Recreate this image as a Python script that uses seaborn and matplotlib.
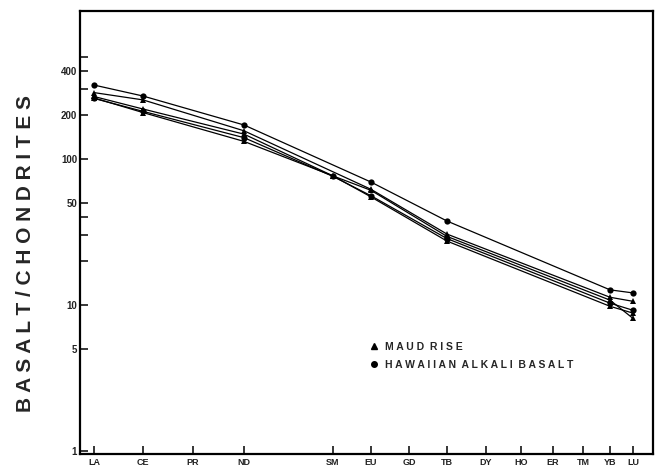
import pandas as pd
import matplotlib
matplotlib.use("Agg")
import matplotlib.pyplot as plt
from matplotlib.lines import Line2D
from matplotlib.ticker import NullFormatter
import seaborn as sns

sns.set_theme(style="white")
plt.rcParams['font.family'] = ['Liberation Sans', 'DejaVu Sans']

# REE axis (spacing as on the original plot)
elements = ['LA', 'CE', 'PR', 'ND', 'SM', 'EU', 'GD', 'TB', 'DY', 'HO', 'ER', 'TM', 'YB', 'LU']
x_pos = [0, 4.9, 9.9, 15.0, 23.9, 27.7, 31.5, 35.3, 39.2, 42.7, 45.9, 48.9, 51.6, 53.9]

# chondrite normalised values
haw1_el = ['LA', 'CE', 'ND', 'EU', 'TB', 'YB', 'LU']
haw1 = [321, 270, 171, 69.5, 37.6, 12.7, 12.1]

haw2_el = ['LA', 'CE', 'ND', 'SM', 'EU', 'TB', 'YB', 'LU']
haw2 = [260, 212, 140, 76, 56, 28.5, 10.3, 9.2]

maud1_el = ['LA', 'CE', 'ND', 'EU', 'TB', 'YB', 'LU']
maud1 = [285, 254, 156, 62, 30.6, 11.3, 10.6]

maud2_el = ['LA', 'CE', 'ND', 'SM', 'EU', 'TB', 'YB', 'LU']
maud2 = [268, 220, 148, 76.6, 61, 29.5, 10.8, 8.1]

maud3_el = ['LA', 'CE', 'ND', 'SM', 'EU', 'TB', 'YB', 'LU']
maud3 = [262, 208, 132, 76.6, 55, 27.4, 9.8, 8.8]

samples = [
    ('H1', 'Hawaiian', haw1_el, haw1),
    ('H2', 'Hawaiian', haw2_el, haw2),
    ('M1', 'Maud Rise', maud1_el, maud1),
    ('M2', 'Maud Rise', maud2_el, maud2),
    ('M3', 'Maud Rise', maud3_el, maud3),
]

xmap = dict(zip(elements, x_pos))
rows = []
for name, grp, els, vals in samples:
    for e, v in zip(els, vals):
        rows.append({'sample': name, 'group': grp, 'x': xmap[e], 'value': v})
df = pd.DataFrame(rows)

fig = plt.figure(figsize=(6.58, 4.67), dpi=100)
ax = fig.add_axes([80 / 658, 1 - 454 / 467, 573 / 658, 443 / 467])

sns.lineplot(data=df, x='x', y='value', units='sample', estimator=None,
             style='group', markers={'Maud Rise': '^', 'Hawaiian': 'o'},
             dashes=False, color='black', lw=0.9, markersize=4.5,
             markeredgecolor='black', markeredgewidth=0, legend=False, ax=ax)

ax.set_yscale('log')
ax.set_ylim(0.954, 1032)
ax.set_xlim(-1.4, 55.9)

ax.set_xticks(x_pos, elements)
ax.set_yticks([1, 5, 10, 50, 100, 200, 400], ['1', '5', '10', '50', '100', '200', '400'])
ax.set_yticks([20, 30, 40, 300, 500], minor=True)
ax.yaxis.set_minor_formatter(NullFormatter())
ax.tick_params(axis='both', which='both', direction='in', color='black',
               width=1.1, length=6, labelsize=7, pad=2, labelcolor='#222222',
               left=True, bottom=True)
ax.tick_params(axis='x', labelsize=6.5, pad=3)
for lbl in ax.get_xticklabels() + ax.get_yticklabels():
    lbl.set_fontweight('bold')

ax.set_xlabel('')
ax.set_ylabel('')
for s in ax.spines.values():
    s.set_visible(True)
    s.set_color('black')
    s.set_linewidth(1.6)

fig.text(26 / 658, 1 - 254 / 467, ' '.join('BASALT/CHONDRITES'),
         rotation=90, ha='center', va='center', fontsize=15, fontweight='bold')


def spaced(s):
    return '  '.join(' '.join(w) for w in s.split())


handles = [Line2D([], [], marker='^', ls='none', color='black', ms=4),
           Line2D([], [], marker='o', ls='none', color='black', ms=4)]
ax.legend(handles, [spaced('MAUD RISE'), spaced('HAWAIIAN ALKALI BASALT')],
          loc='upper left', bbox_to_anchor=(0.49, 0.275), frameon=False,
          handlelength=0.8, handletextpad=0.6, labelspacing=0.8,
          prop={'weight': 'bold', 'size': 7.5})

fig.savefig('out.png', dpi=100)
